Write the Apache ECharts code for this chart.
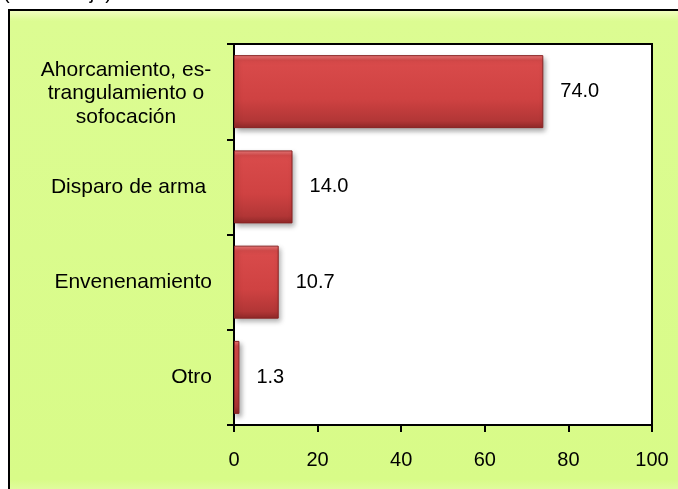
<!DOCTYPE html>
<html>
<head>
<meta charset="utf-8">
<script src="https://cdn.jsdelivr.net/npm/echarts@6/dist/echarts.min.js"></script>
<style>
  html, body { margin: 0; padding: 0; background: #ffffff; }
  #chart { width: 678px; height: 489px; }
</style>
</head>
<body>
<div id="chart"></div>
<script>
// Causes of death (percent)
const categories = [
  'Ahorcamiento, es-\ntrangulamiento o\nsofocación',
  'Disparo de arma ',
  'Envenenamiento',
  'Otro'
];
const values = [74.0, 14.0, 10.7, 1.3];
const xTicks = [0, 20, 40, 60, 80, 100];
const unitCaption = '(Porcentaje)';

const FONT = 'Arial, "Liberation Sans", sans-serif';

const chart = echarts.init(document.getElementById('chart'), null, { renderer: 'canvas' });

const barFill = new echarts.graphic.LinearGradient(0, 0, 0, 1, [
  { offset: 0, color: '#ec7b7b' },
  { offset: 0.07, color: '#d94b4b' },
  { offset: 0.6, color: '#cf4242' },
  { offset: 0.9, color: '#b23636' },
  { offset: 1, color: '#8f2828' }
]);

const frameFill = new echarts.graphic.LinearGradient(0, 0, 0, 1, [
  { offset: 0, color: '#f6ffc8' },
  { offset: 0.025, color: '#dcfc92' },
  { offset: 0.97, color: '#d8fb88' },
  { offset: 1, color: '#e4fda8' }
]);

// wrapped category names get a small top padding so the block sits a bit lower
const yData = categories.map(c => (
  c.indexOf('\n') >= 0 ? { value: c, textStyle: { padding: [4, 0, 0, 0] } } : c
));

chart.setOption({
  animation: false,
  textStyle: { fontFamily: FONT },
  graphic: [
    {
      type: 'rect',
      z: -100,
      shape: { x: 9, y: 10, width: 700, height: 483 },
      style: { fill: frameFill, stroke: '#000000', lineWidth: 2 }
    },
    {
      type: 'text',
      z: -50,
      style: {
        text: unitCaption,
        x: 3,
        y: 3,
        verticalAlign: 'bottom',
        font: '20px ' + FONT,
        fill: '#000000'
      }
    }
  ],
  grid: {
    show: true,
    left: 234,
    top: 44,
    width: 418,
    height: 381,
    backgroundColor: '#ffffff',
    borderColor: '#000000',
    borderWidth: 2,
    containLabel: false
  },
  xAxis: {
    type: 'value',
    min: 0,
    max: 100,
    interval: 20,
    axisLine: { show: true, onZero: false, lineStyle: { color: '#000000', width: 2 } },
    axisTick: { show: true, inside: false, length: 7, lineStyle: { color: '#000000', width: 2 } },
    splitLine: { show: false },
    axisLabel: {
      color: '#000000',
      fontSize: 20,
      fontFamily: FONT,
      margin: 25,
      formatter: v => (xTicks.indexOf(v) >= 0 ? String(v) : '')
    }
  },
  yAxis: {
    type: 'category',
    inverse: true,
    data: yData,
    axisLine: { show: true, lineStyle: { color: '#000000', width: 2 } },
    axisTick: { show: true, inside: false, length: 7, alignWithLabel: false, lineStyle: { color: '#000000', width: 2 } },
    splitLine: { show: false },
    axisLabel: {
      color: '#000000',
      fontSize: 21,
      fontFamily: FONT,
      margin: 22,
      formatter: function (v) {
        if (v.indexOf('\n') >= 0) {
          return v.split('\n').map(s => '{w|' + s + '}').join('\n');
        }
        return v;
      },
      rich: {
        w: {
          width: 172,
          align: 'center',
          fontSize: 21,
          lineHeight: 23.5,
          fontFamily: FONT,
          color: '#000000'
        }
      }
    }
  },
  series: [
    {
      type: 'bar',
      data: values,
      barWidth: 73,
      itemStyle: {
        color: barFill,
        borderColor: '#8a2323',
        borderWidth: 1,
        shadowColor: 'rgba(0,0,0,0.35)',
        shadowBlur: 5,
        shadowOffsetX: 2,
        shadowOffsetY: 3
      },
      label: {
        show: true,
        position: 'right',
        distance: 17,
        color: '#000000',
        fontSize: 20,
        fontFamily: FONT,
        formatter: p => p.value.toFixed(1)
      }
    }
  ]
});
</script>
</body>
</html>
